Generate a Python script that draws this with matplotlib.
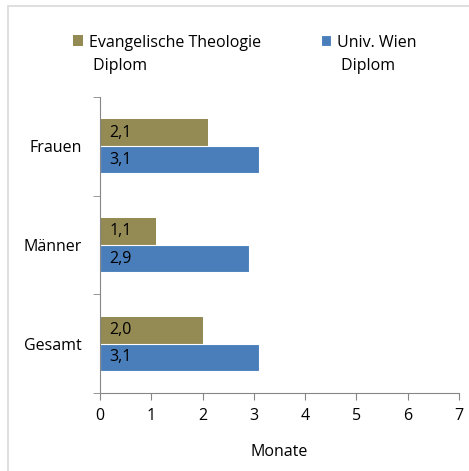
import matplotlib
matplotlib.use("Agg")
import matplotlib.pyplot as plt
from matplotlib.patches import Rectangle
import numpy as np

categories = ["Gesamt", "Männer", "Frauen"]
series_names = ["Evangelische Theologie\n Diplom", "Univ. Wien\n Diplom"]
evang = [2.0, 1.1, 2.1]
wien = [3.1, 2.9, 3.1]
value_labels_evang = ["2,0", "1,1", "2,1"]
value_labels_wien = ["3,1", "2,9", "3,1"]
xticks = [0, 1, 2, 3, 4, 5, 6, 7]

plt.rcParams['font.family'] = ['Open Sans', 'DejaVu Sans']
FS = 11.5

fig = plt.figure(figsize=(4.69, 4.71), dpi=100)
ax = fig.add_axes([100/469, 1-393/471, 359/469, 296/471])

y = np.arange(len(categories))
h = 0.275
olive = "#948A54"
blue = "#4A7EBB"
b1 = ax.barh(y + h/2, evang, height=h, color=olive, label=series_names[0])
b2 = ax.barh(y - h/2, wien, height=h, color=blue, edgecolor="white", linewidth=0.8, label=series_names[1])

for yi, v, lab in zip(y + h/2, evang, value_labels_evang):
    ax.text(0.18, yi, lab, va="center", ha="left", fontsize=FS)
for yi, v, lab in zip(y - h/2, wien, value_labels_wien):
    ax.text(0.18, yi, lab, va="center", ha="left", fontsize=FS)

ax.set_xlim(0, 7)
ax.set_ylim(-0.5, 2.5)
ax.set_xticks(xticks)
ax.set_xticklabels([str(t) for t in xticks], fontsize=FS)
ax.set_yticks(y)
ax.set_yticklabels(categories, fontsize=FS)
ax.set_yticks([-0.5, 0.5, 1.5, 2.5], minor=True)
ax.tick_params(axis="y", which="major", length=0, pad=13)
ax.tick_params(axis="y", which="minor", length=5, color="#868686", direction="out")
ax.tick_params(axis="x", which="major", length=5, color="#868686", direction="out", pad=6)
for s in ["top", "right"]:
    ax.spines[s].set_visible(False)
for s in ["left", "bottom"]:
    ax.spines[s].set_color("#868686")
ax.set_xlabel("Monate", fontsize=FS, labelpad=14)

leg = fig.legend(loc="upper left", bbox_to_anchor=(73/469, 1-35/471), ncol=2, frameon=False,
                 fontsize=FS, handlelength=0.65, handleheight=0.65, handletextpad=0.35,
                 columnspacing=3.75, borderaxespad=0, borderpad=0, labelspacing=0.3)
for t in leg.get_texts():
    t.set_linespacing(1.55)
for p in leg.get_patches():
    p.set_y(p.get_y() + 10.0)

fig.patches.append(Rectangle((8/469, -0.01), 1.0, 1-6/471+0.01, transform=fig.transFigure,
                             fill=False, edgecolor="#D9D9D9", linewidth=1.2))

fig.savefig("out.png", dpi=100)
